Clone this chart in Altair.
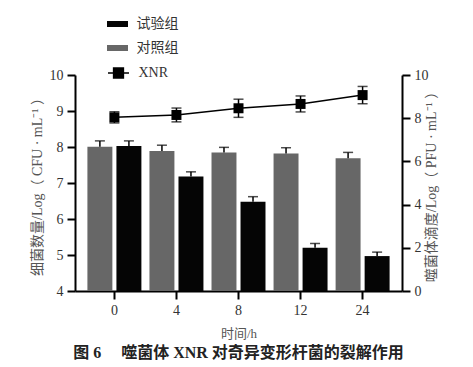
import altair as alt
import pandas as pd

times = ["0", "4", "8", "12", "24"]
control = [8.01, 7.89, 7.85, 7.82, 7.69]
control_err = [0.16, 0.16, 0.14, 0.16, 0.16]
test = [8.03, 7.18, 6.48, 5.20, 4.97]
test_err = [0.14, 0.13, 0.14, 0.12, 0.11]
xnr = [8.04, 8.15, 8.46, 8.66, 9.07]
xnr_err = [0.26, 0.32, 0.42, 0.37, 0.40]
left_ticks = [4, 5, 6, 7, 8, 9, 10]
right_ticks = [0, 2, 4, 6, 8, 10]

FONT = "Liberation Serif, Noto Sans CJK SC"

rows = []
for i, t in enumerate(times):
    rows.append({"time": t, "group": "对照组", "value": control[i], "upper": control[i] + control_err[i], "base": left_ticks[0]})
    rows.append({"time": t, "group": "试验组", "value": test[i], "upper": test[i] + test_err[i], "base": left_ticks[0]})
bars_df = pd.DataFrame(rows)

xnr_df = pd.DataFrame({
    "time": times,
    "series": ["XNR"] * len(times),
    "value": xnr,
    "lo": [v - e for v, e in zip(xnr, xnr_err)],
    "hi": [v + e for v, e in zip(xnr, xnr_err)],
})

x_enc = alt.X("time:N", sort=times,
              scale=alt.Scale(paddingInner=0.13, paddingOuter=0.2),
              axis=alt.Axis(title="时间/h", labelAngle=0, titlePadding=10, titleFontSize=13))
xoff = alt.XOffset("group:N", scale=alt.Scale(domain=["对照组", "试验组"], paddingInner=0.14))


def yl(field):
    return alt.Y(field, scale=alt.Scale(domain=[4, 10], zero=False, nice=False),
                 axis=alt.Axis(title="细菌数量/Log（ CFU · mL⁻¹ ）", values=left_ticks,
                               orient="left", titlePadding=5, labelOverlap=False))


def yr(field):
    return alt.Y(field, scale=alt.Scale(domain=[0, 10], nice=False),
                 axis=alt.Axis(title="噬菌体滴度/Log（ PFU · mL⁻¹ ）", values=right_ticks,
                               orient="right", titleAngle=270, titlePadding=10, labelOverlap=False))


bar_path = "M-1.5,-0.43H1.5V0.43H-1.5Z"
xnr_path = "M-1.5,0H1.5M-0.7,-0.7H0.7V0.7H-0.7Z"

bars = alt.Chart(bars_df).mark_bar().encode(
    x=x_enc, xOffset=xoff, y=yl("value:Q"), y2="base:Q",
    color=alt.Color("group:N", scale=alt.Scale(domain=["试验组", "对照组"], range=["#050505", "#676767"]),
                    legend=alt.Legend(title=None, orient="none", legendX=35.5, legendY=-58,
                                      symbolType=bar_path, symbolSize=196, symbolStrokeWidth=0,
                                      labelOffset=12, rowPadding=10, padding=0,
                                      labelFontSize=14, labelColor="#333")),
)
bar_rule = alt.Chart(bars_df).mark_rule(color="black", strokeWidth=1.5).encode(
    x=x_enc, xOffset=xoff, y=yl("value:Q"), y2="upper:Q")
bar_cap = alt.Chart(bars_df).mark_tick(color="black", thickness=1.5, size=10).encode(
    x=x_enc, xOffset=xoff, y=yl("upper:Q"))
left = alt.layer(bars, bar_rule, bar_cap)

line = alt.Chart(xnr_df).mark_line(strokeWidth=1.5).encode(
    x=x_enc, y=yr("value:Q"),
    stroke=alt.Stroke("series:N", scale=alt.Scale(domain=["XNR"], range=["black"]),
                      legend=alt.Legend(title=None, orient="none", legendX=35.5, legendY=-10,
                                        symbolType=xnr_path, symbolSize=196, symbolStrokeWidth=1.5,
                                        symbolFillColor="black", symbolStrokeColor="black",
                                        labelOffset=12, padding=0,
                                        labelFontSize=14, labelColor="#333")),
)
pts = alt.Chart(xnr_df).mark_square(size=100, color="black", opacity=1).encode(x=x_enc, y=yr("value:Q"))
err = alt.Chart(xnr_df).mark_rule(color="black", strokeWidth=1.5).encode(x=x_enc, y=yr("lo:Q"), y2="hi:Q")
cap_lo = alt.Chart(xnr_df).mark_tick(color="black", thickness=1.5, size=10).encode(x=x_enc, y=yr("lo:Q"))
cap_hi = alt.Chart(xnr_df).mark_tick(color="black", thickness=1.5, size=10).encode(x=x_enc, y=yr("hi:Q"))
right = alt.layer(err, cap_lo, cap_hi, line, pts)

chart = alt.layer(left, right).resolve_scale(y="independent", color="independent").properties(
    width=327, height=216,
    autosize=alt.AutoSizeParams(type="none"),
    padding={"left": 67, "top": 67, "right": 63, "bottom": 74},
    title=alt.TitleParams("图 6　 噬菌体 XNR 对奇异变形杆菌的裂解作用", orient="bottom", anchor="middle",
                          fontSize=16, fontWeight="bold", font=FONT, color="#222", offset=5),
).configure_view(stroke=None).configure_axis(
    grid=False, domainColor="black", domainWidth=2, tickColor="black", tickWidth=2, tickSize=8,
    labelFont=FONT, labelFontSize=14, labelColor="#333", labelPadding=4,
    titleFont=FONT, titleFontSize=14, titleFontWeight="normal", titleColor="#555",
).configure_legend(labelFont=FONT)

chart.save("out.html", embed_options={"renderer": "svg", "actions": False})
